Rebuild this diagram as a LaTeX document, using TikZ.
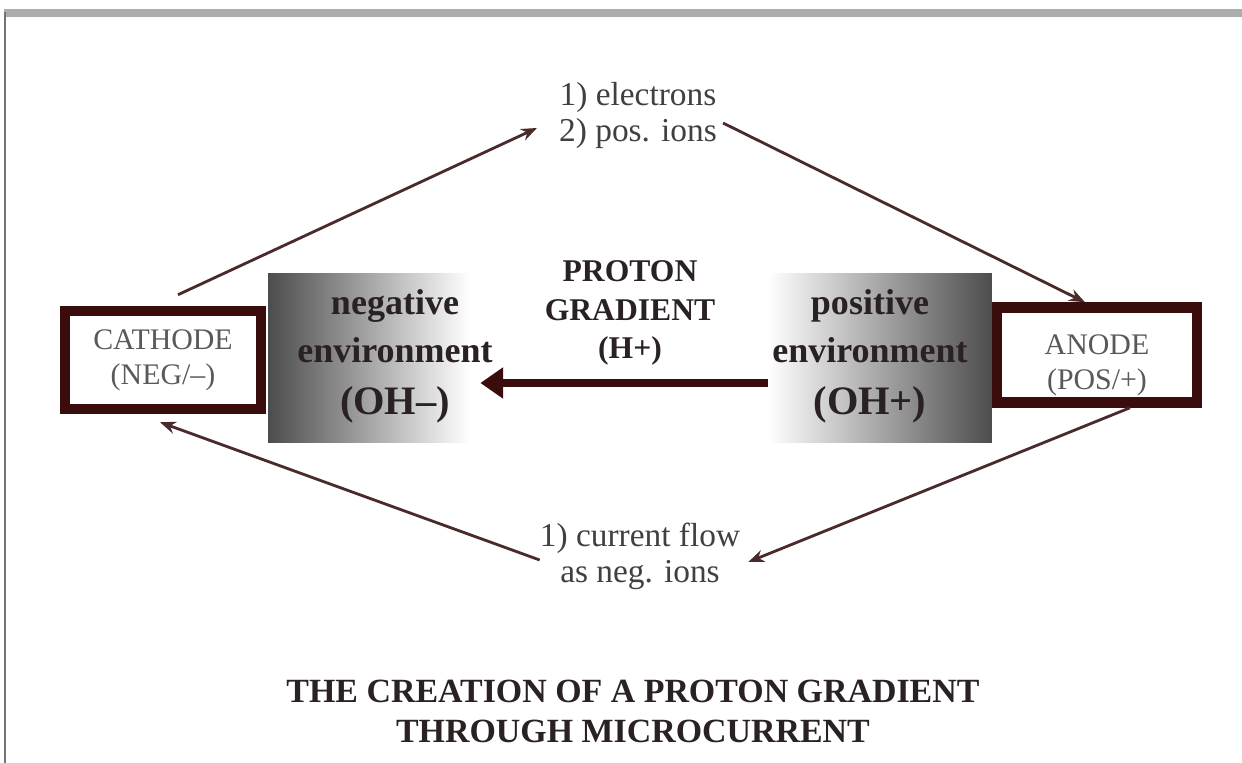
\documentclass[tikz,border=0pt]{standalone}
\usepackage{fontspec}
\setmainfont{Liberation Serif}
\usepackage{xcolor}
\usetikzlibrary{arrows.meta, calc}

\definecolor{maroon}{HTML}{3A0C0C}
\definecolor{wire}{HTML}{4A2A2A}
\definecolor{ink}{HTML}{2A2222}

\begin{document}
\begin{tikzpicture}[
    x=0.02cm, y=-0.02cm,
    electrode/.style={rectangle, draw=maroon, line width=6pt, fill=white, align=center, font=\fontsize{17}{20}\selectfont, text=black!65},
    envbox/.style={rectangle, minimum height=3.4cm, inner sep=0pt},
    envtext/.style={align=center, text=ink, font=\fontsize{20.5}{27.5}\selectfont\bfseries},
    gradtext/.style={align=center, text=ink, font=\fontsize{18}{22}\selectfont\bfseries},
    note/.style={align=center, text=black!75, font=\fontsize{19}{20.5}\selectfont},
    wirearrow/.style={draw=wire, line width=1.6pt, -{Stealth[length=9pt, width=7pt]}},
    flowarrow/.style={draw=maroon, line width=4pt, -{Triangle[length=13pt, width=17pt]}},
]
\useasboundingbox (0,0) rectangle (1242,763);
\fill[white] (0,0) rectangle (1242,763);

% Frame
\fill[black!32] (4,9) rectangle (1242,17);
\fill[black!55] (4,12) rectangle (6,763);

% Environments
\node[envbox, minimum width=4.04cm, left color=black!70, right color=white] (negbox) at (369,358) {};
\node[envbox, minimum width=4.48cm, left color=white, right color=black!70] (posbox) at (880,358) {};
\node[envtext] (negenv) at (395,356) {negative\\environment\\[2pt]{\fontsize{23}{27.5}\selectfont (OH–)}};
\node[envtext] (posenv) at (870,356) {positive\\environment\\[2pt]{\fontsize{23}{27.5}\selectfont (OH+)}};

% Electrodes
\node[electrode, minimum width=3.92cm, minimum height=1.96cm] (cathode) at (163,360) {CATHODE\\(NEG/–)};
\node[electrode, minimum width=4.0cm, minimum height=1.9cm] (anode) at (1097,355) {\rule{0pt}{23pt}ANODE\\(POS/+)};

% Proton gradient
\node[gradtext] (gradient) at (630,313) {PROTON\\GRADIENT\\(H+)};
\draw[flowarrow] ($(posbox.west)+(0,25)$) -- ($(negbox.east)+(10,25)$);

% Charge carriers
\node[note] (electrons) at (638,115) {1) electrons\\2) pos. ions};
\node[note] (current) at (640,556) {1) current flow\\as neg. ions};

\draw[wirearrow] ($(cathode.north)+(15,-11)$) -- ($(electrons.west)+(-16,13)$);
\draw[wirearrow] ($(electrons.east)+(0,8)$) -- ($(anode.north)+(-12,0)$);
\draw[wirearrow] ($(anode.south)+(33,0)$) -- ($(current.east)+(2,6)$);
\draw[wirearrow] ($(current.west)+(6,4)$) -- ($(cathode.south)+(-3,8)$);

% Title
\node[align=center, text=ink, font=\fontsize{19.3}{22.7}\selectfont\bfseries] (title) at (633,711) {THE CREATION OF A PROTON GRADIENT\\THROUGH MICROCURRENT};

\end{tikzpicture}
\end{document}
